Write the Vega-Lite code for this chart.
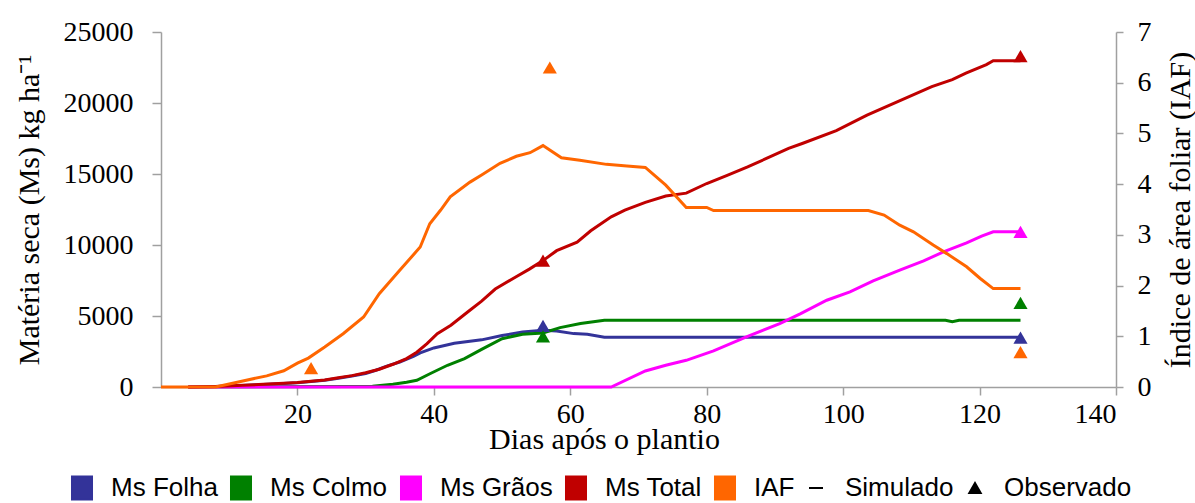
{
  "$schema": "https://vega.github.io/schema/vega-lite/v6.json",
  "width": 955,
  "height": 355,
  "autosize": {"type": "none"},
  "padding": {"left": 161, "top": 32, "right": 79, "bottom": 116},
  "background": "white",
  "config": {
    "view": {"stroke": null},
    "axis": {
      "grid": false,
      "domainColor": "#A0A0A0",
      "domainWidth": 1.5,
      "tickColor": "#A0A0A0",
      "tickWidth": 1.5,
      "labelFont": "Liberation Serif",
      "labelFontSize": 28,
      "labelColor": "#000000",
      "titleFont": "Liberation Serif",
      "titleFontSize": 30,
      "titleFontWeight": "normal",
      "titleColor": "#000000"
    }
  },
  "datasets": {
    "ms_sim": [
      {"dia": 4, "serie": "Ms Folha", "ms": 0}, {"dia": 8, "serie": "Ms Folha", "ms": 40}, {"dia": 12, "serie": "Ms Folha", "ms": 110}, {"dia": 15, "serie": "Ms Folha", "ms": 180}, {"dia": 18, "serie": "Ms Folha", "ms": 250}, {"dia": 20, "serie": "Ms Folha", "ms": 300}, {"dia": 22, "serie": "Ms Folha", "ms": 380}, {"dia": 24, "serie": "Ms Folha", "ms": 480}, {"dia": 26, "serie": "Ms Folha", "ms": 620}, {"dia": 28, "serie": "Ms Folha", "ms": 780}, {"dia": 30, "serie": "Ms Folha", "ms": 950}, {"dia": 31.5, "serie": "Ms Folha", "ms": 1180}, {"dia": 33, "serie": "Ms Folha", "ms": 1450}, {"dia": 35, "serie": "Ms Folha", "ms": 1760}, {"dia": 37, "serie": "Ms Folha", "ms": 2150}, {"dia": 38, "serie": "Ms Folha", "ms": 2400}, {"dia": 40, "serie": "Ms Folha", "ms": 2750}, {"dia": 43, "serie": "Ms Folha", "ms": 3080}, {"dia": 47, "serie": "Ms Folha", "ms": 3320}, {"dia": 50, "serie": "Ms Folha", "ms": 3620}, {"dia": 53, "serie": "Ms Folha", "ms": 3880}, {"dia": 56, "serie": "Ms Folha", "ms": 4000}, {"dia": 58, "serie": "Ms Folha", "ms": 3950}, {"dia": 60.5, "serie": "Ms Folha", "ms": 3760}, {"dia": 62.5, "serie": "Ms Folha", "ms": 3720}, {"dia": 65, "serie": "Ms Folha", "ms": 3500}, {"dia": 126, "serie": "Ms Folha", "ms": 3500},
      {"dia": 4, "serie": "Ms Colmo", "ms": 0}, {"dia": 28, "serie": "Ms Colmo", "ms": 30}, {"dia": 31, "serie": "Ms Colmo", "ms": 60}, {"dia": 34, "serie": "Ms Colmo", "ms": 190}, {"dia": 36, "serie": "Ms Colmo", "ms": 330}, {"dia": 37.5, "serie": "Ms Colmo", "ms": 470}, {"dia": 39.5, "serie": "Ms Colmo", "ms": 950}, {"dia": 42, "serie": "Ms Colmo", "ms": 1530}, {"dia": 44.5, "serie": "Ms Colmo", "ms": 2000}, {"dia": 47, "serie": "Ms Colmo", "ms": 2650}, {"dia": 50, "serie": "Ms Colmo", "ms": 3400}, {"dia": 53, "serie": "Ms Colmo", "ms": 3720}, {"dia": 56, "serie": "Ms Colmo", "ms": 3810}, {"dia": 58.5, "serie": "Ms Colmo", "ms": 4180}, {"dia": 61.5, "serie": "Ms Colmo", "ms": 4470}, {"dia": 65, "serie": "Ms Colmo", "ms": 4700}, {"dia": 115, "serie": "Ms Colmo", "ms": 4700}, {"dia": 116, "serie": "Ms Colmo", "ms": 4600}, {"dia": 117, "serie": "Ms Colmo", "ms": 4700}, {"dia": 126, "serie": "Ms Colmo", "ms": 4700},
      {"dia": 4, "serie": "Ms Gr\u00e3os", "ms": 0}, {"dia": 66, "serie": "Ms Gr\u00e3os", "ms": 0}, {"dia": 71, "serie": "Ms Gr\u00e3os", "ms": 1130}, {"dia": 74, "serie": "Ms Gr\u00e3os", "ms": 1530}, {"dia": 77, "serie": "Ms Gr\u00e3os", "ms": 1880}, {"dia": 81, "serie": "Ms Gr\u00e3os", "ms": 2540}, {"dia": 86, "serie": "Ms Gr\u00e3os", "ms": 3570}, {"dia": 90.7, "serie": "Ms Gr\u00e3os", "ms": 4470}, {"dia": 93.7, "serie": "Ms Gr\u00e3os", "ms": 5150}, {"dia": 97.6, "serie": "Ms Gr\u00e3os", "ms": 6110}, {"dia": 101, "serie": "Ms Gr\u00e3os", "ms": 6700}, {"dia": 104.4, "serie": "Ms Gr\u00e3os", "ms": 7470}, {"dia": 108.3, "serie": "Ms Gr\u00e3os", "ms": 8225}, {"dia": 111.8, "serie": "Ms Gr\u00e3os", "ms": 8880}, {"dia": 114.7, "serie": "Ms Gr\u00e3os", "ms": 9515}, {"dia": 118.1, "serie": "Ms Gr\u00e3os", "ms": 10150}, {"dia": 120.3, "serie": "Ms Gr\u00e3os", "ms": 10620}, {"dia": 122, "serie": "Ms Gr\u00e3os", "ms": 10925}, {"dia": 126, "serie": "Ms Gr\u00e3os", "ms": 10925},
      {"dia": 4, "serie": "Ms Total", "ms": 0}, {"dia": 8, "serie": "Ms Total", "ms": 40}, {"dia": 12, "serie": "Ms Total", "ms": 120}, {"dia": 15, "serie": "Ms Total", "ms": 190}, {"dia": 18, "serie": "Ms Total", "ms": 260}, {"dia": 20, "serie": "Ms Total", "ms": 310}, {"dia": 22, "serie": "Ms Total", "ms": 400}, {"dia": 24, "serie": "Ms Total", "ms": 500}, {"dia": 26, "serie": "Ms Total", "ms": 650}, {"dia": 28, "serie": "Ms Total", "ms": 800}, {"dia": 30, "serie": "Ms Total", "ms": 1000}, {"dia": 32, "serie": "Ms Total", "ms": 1250}, {"dia": 34, "serie": "Ms Total", "ms": 1600}, {"dia": 36, "serie": "Ms Total", "ms": 2000}, {"dia": 37.5, "serie": "Ms Total", "ms": 2450}, {"dia": 39, "serie": "Ms Total", "ms": 3050}, {"dia": 40.5, "serie": "Ms Total", "ms": 3750}, {"dia": 42.5, "serie": "Ms Total", "ms": 4350}, {"dia": 45, "serie": "Ms Total", "ms": 5300}, {"dia": 47, "serie": "Ms Total", "ms": 6050}, {"dia": 49, "serie": "Ms Total", "ms": 6900}, {"dia": 52, "serie": "Ms Total", "ms": 7750}, {"dia": 54, "serie": "Ms Total", "ms": 8300}, {"dia": 56, "serie": "Ms Total", "ms": 8900}, {"dia": 58, "serie": "Ms Total", "ms": 9600}, {"dia": 61, "serie": "Ms Total", "ms": 10200}, {"dia": 63, "serie": "Ms Total", "ms": 11000}, {"dia": 66, "serie": "Ms Total", "ms": 11980}, {"dia": 68, "serie": "Ms Total", "ms": 12450}, {"dia": 71, "serie": "Ms Total", "ms": 13000}, {"dia": 74, "serie": "Ms Total", "ms": 13450}, {"dia": 77, "serie": "Ms Total", "ms": 13650}, {"dia": 80, "serie": "Ms Total", "ms": 14330}, {"dia": 83, "serie": "Ms Total", "ms": 14900}, {"dia": 86, "serie": "Ms Total", "ms": 15500}, {"dia": 89, "serie": "Ms Total", "ms": 16150}, {"dia": 92, "serie": "Ms Total", "ms": 16800}, {"dia": 94, "serie": "Ms Total", "ms": 17150}, {"dia": 99, "serie": "Ms Total", "ms": 18050}, {"dia": 103.5, "serie": "Ms Total", "ms": 19150}, {"dia": 108, "serie": "Ms Total", "ms": 20100}, {"dia": 113, "serie": "Ms Total", "ms": 21150}, {"dia": 116, "serie": "Ms Total", "ms": 21650}, {"dia": 118, "serie": "Ms Total", "ms": 22100}, {"dia": 121, "serie": "Ms Total", "ms": 22700}, {"dia": 122, "serie": "Ms Total", "ms": 22980}, {"dia": 126, "serie": "Ms Total", "ms": 22980}
    ],
    "ms_obs": [
      {"dia": 56, "serie": "Ms Folha", "ms": 4300}, {"dia": 126, "serie": "Ms Folha", "ms": 3480},
      {"dia": 56, "serie": "Ms Colmo", "ms": 3570}, {"dia": 126, "serie": "Ms Colmo", "ms": 5920},
      {"dia": 126, "serie": "Ms Gr\u00e3os", "ms": 10925},
      {"dia": 56, "serie": "Ms Total", "ms": 8900}, {"dia": 126, "serie": "Ms Total", "ms": 23300}
    ],
    "iaf_sim": [
      {"dia": 0, "serie": "IAF", "iaf": 0}, {"dia": 8, "serie": "IAF", "iaf": 0}, {"dia": 10, "serie": "IAF", "iaf": 0.06}, {"dia": 12, "serie": "IAF", "iaf": 0.12}, {"dia": 15.5, "serie": "IAF", "iaf": 0.22}, {"dia": 18, "serie": "IAF", "iaf": 0.32}, {"dia": 20, "serie": "IAF", "iaf": 0.47}, {"dia": 21.6, "serie": "IAF", "iaf": 0.57}, {"dia": 24, "serie": "IAF", "iaf": 0.79}, {"dia": 26.7, "serie": "IAF", "iaf": 1.05}, {"dia": 29.7, "serie": "IAF", "iaf": 1.38}, {"dia": 32, "serie": "IAF", "iaf": 1.84}, {"dia": 35, "serie": "IAF", "iaf": 2.3}, {"dia": 38, "serie": "IAF", "iaf": 2.76}, {"dia": 39.4, "serie": "IAF", "iaf": 3.22}, {"dia": 41, "serie": "IAF", "iaf": 3.49}, {"dia": 42.4, "serie": "IAF", "iaf": 3.75}, {"dia": 45.3, "serie": "IAF", "iaf": 4.04}, {"dia": 47, "serie": "IAF", "iaf": 4.18}, {"dia": 49.7, "serie": "IAF", "iaf": 4.41}, {"dia": 52.1, "serie": "IAF", "iaf": 4.55}, {"dia": 54.1, "serie": "IAF", "iaf": 4.62}, {"dia": 56, "serie": "IAF", "iaf": 4.76}, {"dia": 58.7, "serie": "IAF", "iaf": 4.52}, {"dia": 61.4, "serie": "IAF", "iaf": 4.47}, {"dia": 65.3, "serie": "IAF", "iaf": 4.39}, {"dia": 68.3, "serie": "IAF", "iaf": 4.36}, {"dia": 71, "serie": "IAF", "iaf": 4.33}, {"dia": 74, "serie": "IAF", "iaf": 3.98}, {"dia": 77, "serie": "IAF", "iaf": 3.54}, {"dia": 80, "serie": "IAF", "iaf": 3.54}, {"dia": 81, "serie": "IAF", "iaf": 3.48}, {"dia": 103.7, "serie": "IAF", "iaf": 3.48}, {"dia": 106, "serie": "IAF", "iaf": 3.39}, {"dia": 108.3, "serie": "IAF", "iaf": 3.19}, {"dia": 110.3, "serie": "IAF", "iaf": 3.06}, {"dia": 113.2, "serie": "IAF", "iaf": 2.8}, {"dia": 115.2, "serie": "IAF", "iaf": 2.63}, {"dia": 118.1, "serie": "IAF", "iaf": 2.37}, {"dia": 120.1, "serie": "IAF", "iaf": 2.14}, {"dia": 122, "serie": "IAF", "iaf": 1.94}, {"dia": 126, "serie": "IAF", "iaf": 1.94}
    ],
    "iaf_obs": [
      {"dia": 22, "serie": "IAF", "iaf": 0.37}, {"dia": 57, "serie": "IAF", "iaf": 6.3}, {"dia": 126, "serie": "IAF", "iaf": 0.69}
    ]
  },
  "layer": [
    {
      "layer": [
        {
          "data": {"name": "ms_sim"},
          "mark": {"type": "line", "strokeWidth": 3},
          "encoding": {
            "x": {"field": "dia", "type": "quantitative", "scale": {"domain": [0, 140], "nice": false},
                  "axis": {"values": [20, 40, 60, 80, 100, 120, 140], "title": "Dias após o plantio", "tickSize": 8, "labelPadding": 5, "titlePadding": -4, "titleX": 443}},
            "y": {"field": "ms", "type": "quantitative", "scale": {"domain": [0, 25000], "nice": false},
                  "axis": {"orient": "left", "values": [0, 5000, 10000, 15000, 20000, 25000], "format": "d", "title": "Matéria seca (Ms) kg ha⁻¹", "tickSize": 9, "labelPadding": 19, "titlePadding": 19}},
            "color": {"field": "serie", "type": "nominal",
              "scale": {"domain": ["Ms Folha", "Ms Colmo", "Ms Gr\u00e3os", "Ms Total", "IAF", "Simulado", "Observado"],
                        "range": ["#333399", "#008000", "#FF00FF", "#C00000", "#FF6600", "#000000", "#000000"]},
              "legend": {
                "orient": "none", "legendX": -92, "legendY": 443, "direction": "horizontal", "title": null,
                "padding": 0, "gridAlign": "none", "labelFont": "Liberation Sans", "labelFontSize": 26, "labelColor": "#000000",
                "labelOffset": 16, "columnPadding": 8, "symbolSize": 529, "symbolType": "square",
                "encode": {"symbols": {"update": {
                  "shape": {"signal": "datum.value === 'Simulado' ? 'stroke' : datum.value === 'Observado' ? 'triangle-up' : 'M-0.87,-1H0.87V1H-0.87Z'"},
                  "size": {"signal": "datum.value === 'Observado' ? 130 : datum.value === 'Simulado' ? 196 : 529"},
                  "fill": {"signal": "datum.value === 'Simulado' ? 'transparent' : scale('color', datum.value)"},
                  "stroke": {"signal": "datum.value === 'Simulado' ? '#000000' : 'transparent'"},
                  "strokeWidth": {"value": 2},
                  "opacity": {"value": 1}
                }}}
              }
            }
          }
        },
        {
          "data": {"name": "ms_obs"},
          "mark": {"type": "point", "shape": "triangle-up", "filled": true, "size": 200, "opacity": 1},
          "encoding": {
            "x": {"field": "dia", "type": "quantitative"},
            "y": {"field": "ms", "type": "quantitative"},
            "color": {"field": "serie", "type": "nominal"}
          }
        }
      ]
    },
    {
      "layer": [
        {
          "data": {"name": "iaf_sim"},
          "mark": {"type": "line", "strokeWidth": 3},
          "encoding": {
            "x": {"field": "dia", "type": "quantitative"},
            "y": {"field": "iaf", "type": "quantitative", "scale": {"domain": [0, 7], "nice": false},
                  "axis": {"orient": "right", "values": [0, 1, 2, 3, 4, 5, 6, 7], "title": "Índice de área foliar (IAF)", "tickSize": 7, "labelPadding": 14, "titlePadding": 44, "titleAngle": -90}},
            "color": {"field": "serie", "type": "nominal"}
          }
        },
        {
          "data": {"name": "iaf_obs"},
          "mark": {"type": "point", "shape": "triangle-up", "filled": true, "size": 200, "opacity": 1},
          "encoding": {
            "x": {"field": "dia", "type": "quantitative"},
            "y": {"field": "iaf", "type": "quantitative"},
            "color": {"field": "serie", "type": "nominal"}
          }
        }
      ]
    }
  ],
  "resolve": {"scale": {"y": "independent"}}
}
